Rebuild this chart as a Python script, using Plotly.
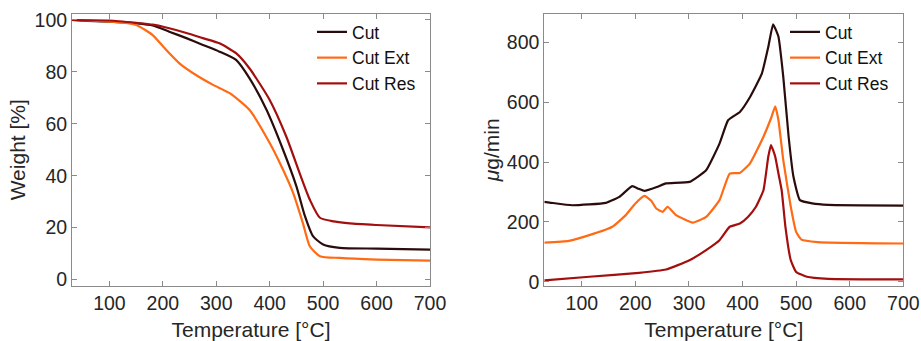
import plotly.graph_objects as go

# ---- TGA (left) ----
tga_T_cut = [30, 50, 100, 150, 181, 212, 244, 275, 306, 337, 362, 394, 425, 450, 466, 481, 500, 531, 600, 700]
tga_W_cut = [100, 99.7, 99.4, 98.7, 97.9, 95.5, 93.0, 90.4, 87.8, 84.6, 77.6, 65.4, 50.0, 35.9, 24.4, 16.7, 13.5, 12.2, 11.9, 11.5]

tga_T_ext = [30, 100, 130, 150, 181, 206, 231, 262, 294, 325, 362, 400, 425, 444, 462, 475, 494, 531, 600, 700]
tga_W_ext = [100, 99.4, 98.9, 98.1, 94.2, 88.5, 83.3, 78.8, 75.0, 71.8, 65.4, 52.6, 42.3, 33.3, 21.8, 12.8, 9.0, 8.3, 7.7, 7.3]

tga_T_res = [30, 100, 150, 181, 212, 244, 275, 306, 337, 362, 400, 431, 456, 475, 494, 520, 550, 600, 700]
tga_W_res = [100, 99.8, 98.9, 98.2, 96.8, 95.0, 93.0, 91.0, 87.2, 81.4, 69.2, 55.1, 41.0, 30.8, 23.8, 22.4, 21.6, 21.0, 20.1]

# ---- DTG (right) ----
dtg_T_cut = [30, 40, 82, 145, 170, 194, 206, 217, 240, 257, 301, 332, 357, 373, 395, 414, 436, 448, 457, 467, 476, 486, 495, 507, 530, 560, 700]
dtg_V_cut = [267, 265, 256, 264, 284, 320, 311, 304, 317, 329, 334, 373, 462, 540, 568, 618, 696, 785, 861, 819, 685, 485, 351, 273, 262, 257, 255]

dtg_T_ext = [30, 76, 114, 157, 182, 200, 217, 230, 239, 251, 260, 276, 307, 332, 357, 376, 395, 414, 439, 454, 461, 467, 476, 490, 500, 510, 540, 700]
dtg_V_ext = [131, 137, 156, 184, 223, 262, 287, 270, 245, 234, 251, 223, 198, 217, 273, 362, 364, 396, 485, 551, 587, 540, 407, 251, 167, 141, 133, 128]

dtg_T_res = [30, 114, 207, 257, 301, 332, 357, 376, 395, 410, 425, 439, 448, 453, 457, 461, 467, 473, 480, 490, 500, 520, 560, 700]
dtg_V_res = [5, 17, 30, 41, 72, 106, 139, 184, 195, 217, 251, 306, 418, 457, 440, 418, 362, 306, 184, 72, 33, 17, 10, 8]

names = ["Cut", "Cut Ext", "Cut Res"]
colors = ["#2b0c0c", "#ff6a14", "#a30f0f"]

FONT = "Liberation Sans, Arial, sans-serif"
W, H = 921, 341

fig = go.Figure()
left_sets = [(tga_T_cut, tga_W_cut), (tga_T_ext, tga_W_ext), (tga_T_res, tga_W_res)]
right_sets = [(dtg_T_cut, dtg_V_cut), (dtg_T_ext, dtg_V_ext), (dtg_T_res, dtg_V_res)]
for (x, y), n, c in zip(left_sets, names, colors):
    fig.add_trace(go.Scatter(x=x, y=y, name=n, mode="lines",
                             line=dict(color=c, width=2.2, shape="spline", smoothing=0.6),
                             xaxis="x", yaxis="y", legend="legend"))
for (x, y), n, c in zip(right_sets, names, colors):
    fig.add_trace(go.Scatter(x=x, y=y, name=n, mode="lines",
                             line=dict(color=c, width=2.2, shape="spline", smoothing=0.4),
                             xaxis="x2", yaxis="y2", legend="legend2"))


def px_x(p):
    return p / W


def px_y(p):
    return 1 - p / H


axis_common = dict(showline=True, linecolor="#8a8a8a", linewidth=1, mirror="ticks", ticks="inside",
                   ticklen=5, tickcolor="#8a8a8a", showgrid=False, zeroline=False,
                   tickfont=dict(family=FONT, size=19.5, color="#262626"), automargin=False)
title_font = dict(family=FONT, size=21, color="#262626")
legend_font = dict(family=FONT, size=17.5, color="#111111")

fig.update_layout(
    width=W, height=H, margin=dict(l=0, r=0, t=0, b=0),
    paper_bgcolor="white", plot_bgcolor="white",
    font=dict(family=FONT, color="#262626"),
    xaxis=dict(domain=[px_x(72), px_x(430)], range=[30, 700], tickvals=[100, 200, 300, 400, 500, 600, 700],
               anchor="y", title=dict(text="Temperature [°C]", font=title_font, standoff=14), **axis_common),
    yaxis=dict(domain=[px_y(286), px_y(13.5)], range=[-2.5, 102.5], tickvals=[0, 20, 40, 60, 80, 100],
               anchor="x", title=dict(text="Weight [%]", font=title_font, standoff=3), **axis_common),
    xaxis2=dict(domain=[px_x(544.3), px_x(903.3)], range=[30, 700], tickvals=[100, 200, 300, 400, 500, 600, 700],
                anchor="y2", title=dict(text="Temperature [°C]", font=title_font, standoff=14), **axis_common),
    yaxis2=dict(domain=[px_y(286), px_y(13.5)], range=[-14, 897], tickvals=[0, 200, 400, 600, 800],
                anchor="x2", title=dict(text="<i>μ</i>g/min", font=title_font, standoff=1), **axis_common),
    legend=dict(x=px_x(312), y=px_y(14), xanchor="left", yanchor="top", bgcolor="rgba(0,0,0,0)",
                font=legend_font, tracegroupgap=0),
    legend2=dict(x=px_x(785), y=px_y(14), xanchor="left", yanchor="top", bgcolor="rgba(0,0,0,0)",
                 font=legend_font, tracegroupgap=0),
    showlegend=True,
)

fig.write_html("out.html")
